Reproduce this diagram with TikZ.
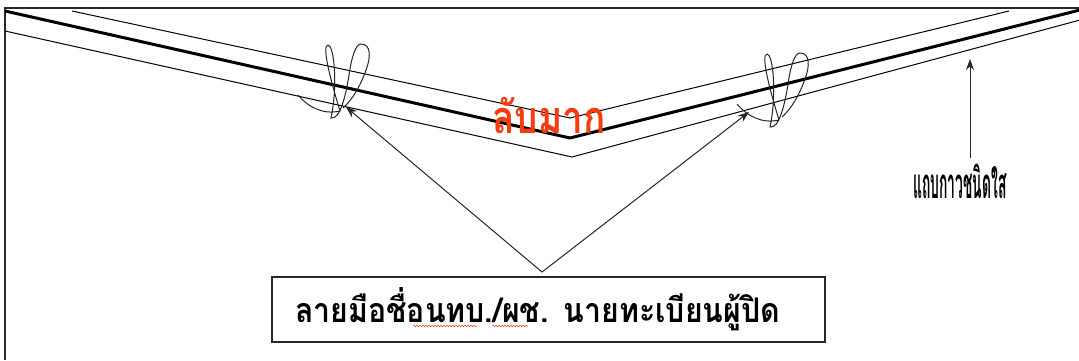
\documentclass[tikz,border=0pt]{standalone}
\usepackage{fontspec}
\newfontfamily\thaifont[Script=Thai]{Loma}
\usetikzlibrary{arrows.meta,decorations.pathmorphing}
\definecolor{redtxt}{RGB}{245,60,15}
\definecolor{framegray}{RGB}{40,40,40}
\begin{document}
\begin{tikzpicture}[x=1pt,y=-1pt,
  thinline/.style={line width=1pt, black},
  tapeline/.style={line width=3pt, black},
  frameline/.style={line width=1.4pt, framegray},
  ptr/.style={line width=1pt, black!85, -{Stealth[length=11pt,width=8pt]}},
  sigline/.style={line width=1pt, black!85},
  labelbox/.style={draw, line width=1.3pt, framegray, text=black, minimum height=65pt, inner ysep=0pt, inner xsep=23pt, text width=507pt, align=left},
  spell/.style={redtxt, line width=0.5pt, decorate, decoration={snake, amplitude=0.8pt, segment length=3pt}},
  signature/.pic={
    \draw[sigline] (-30,50) .. controls (-20,62) and (-5,70) .. (12,66)
      .. controls (4,40) and (-7,0) .. (0,0)
      .. controls (6,0) and (10,40) .. (3,73)
      .. controls (12,75) and (18,50) .. (21,30)
      .. controls (24,10) and (28,-1) .. (33,-1)
      .. controls (43,-1) and (43,12) .. (38,25)
      .. controls (32,42) and (24,55) .. (15,63);
  }
]
\useasboundingbox (0,0) rectangle (1079,360);
% frame
\draw[frameline] (5,360) -- (5,8) -- (1080,8);
% tape lines
\draw[thinline] (72,11) -- (570,118) -- (1009,11);
\draw[tapeline] (5,11) -- (570,138) -- (1080,10);
\draw[thinline] (5,31) -- (572,157) -- (1080,20);
% signatures
\pic at (328,45) {signature};
\pic at (767,54) {signature};
% secret label
\node[font=\thaifont\bfseries\fontsize{45}{48}\selectfont, text=redtxt, inner sep=0pt] (secret) at (549,115) {\scalebox{0.82}[1]{ลับมาก}};
% tape label
\node[font=\thaifont\bfseries\fontsize{42}{46}\selectfont, inner sep=0pt] (tapelabel) at (960,181) {\scalebox{0.33}[1]{แถบกาวชนิดใส}};
\coordinate (tapefoot) at (970,158);
\coordinate (tapetip) at (970,59);
\draw[ptr] (tapefoot) -- (tapetip);
% signer box
\node[labelbox, font=\thaifont\bfseries\fontsize{34}{40}\selectfont] (signer) at (548.5,309.5) {\scalebox{0.89}[1]{ลายมือชื่อนทบ./ผช. นายทะเบียนผู้ปิด}};
\coordinate (apex) at (542,272);
\coordinate (leftsig) at (346,107);
\coordinate (rightsig) at (749,112);
\draw[ptr] (apex) -- (leftsig);
\draw[ptr] (apex) -- (rightsig);
\draw[spell] (413,326) -- (477,326);
\draw[spell] (492,326) -- (528,326);
\end{tikzpicture}
\end{document}
